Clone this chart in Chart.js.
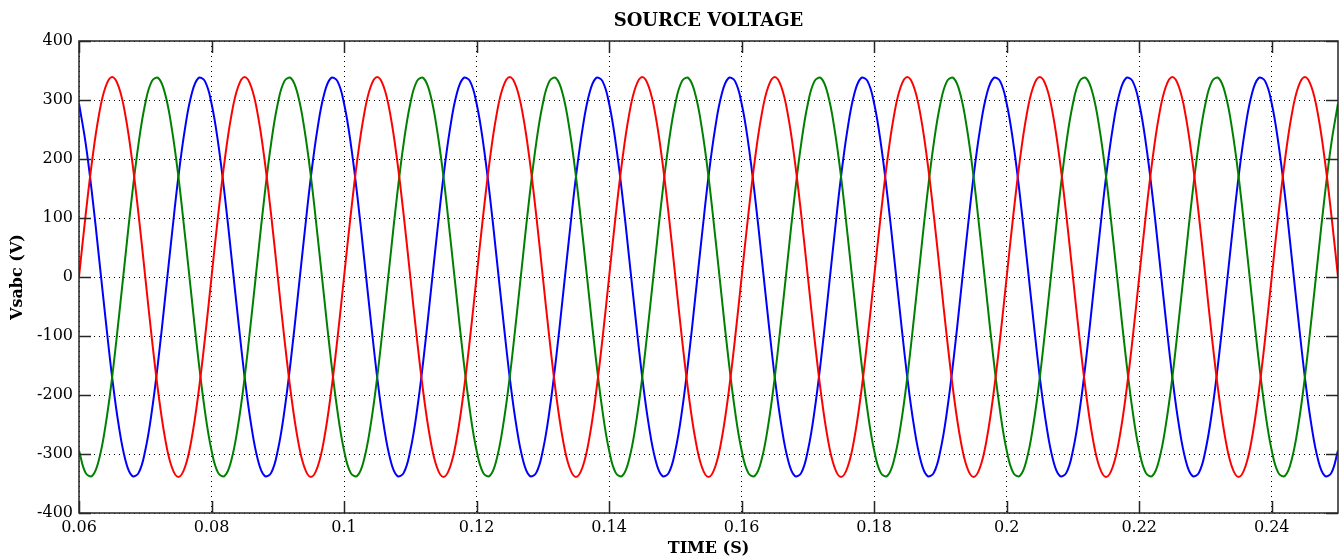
<!DOCTYPE html>
<html>
<head>
<meta charset="utf-8">
<title>Source voltage</title>
<script src="https://cdn.jsdelivr.net/npm/chart.js@4.4.1/dist/chart.umd.min.js"></script>
<style>
  html, body { margin: 0; padding: 0; background: #fff; }
  #wrap { width: 1342px; height: 558px; position: relative; }
</style>
</head>
<body>
<div id="wrap"><canvas id="chart"></canvas></div>
<script>
// Uch fazali manba kuchlanishi, 1 ms qadam bilan o'qilgan qiymatlar (V).

const TIME = [
  0.060,0.061,0.062,0.063,0.064,0.065,0.066,0.067,0.068,0.069,0.070,0.071,0.072,0.073,0.074,0.075,0.076,0.077,0.078,0.079,
  0.080,0.081,0.082,0.083,0.084,0.085,0.086,0.087,0.088,0.089,0.090,0.091,0.092,0.093,0.094,0.095,0.096,0.097,0.098,0.099,
  0.100,0.101,0.102,0.103,0.104,0.105,0.106,0.107,0.108,0.109,0.110,0.111,0.112,0.113,0.114,0.115,0.116,0.117,0.118,0.119,
  0.120,0.121,0.122,0.123,0.124,0.125,0.126,0.127,0.128,0.129,0.130,0.131,0.132,0.133,0.134,0.135,0.136,0.137,0.138,0.139,
  0.140,0.141,0.142,0.143,0.144,0.145,0.146,0.147,0.148,0.149,0.150,0.151,0.152,0.153,0.154,0.155,0.156,0.157,0.158,0.159,
  0.160,0.161,0.162,0.163,0.164,0.165,0.166,0.167,0.168,0.169,0.170,0.171,0.172,0.173,0.174,0.175,0.176,0.177,0.178,0.179,
  0.180,0.181,0.182,0.183,0.184,0.185,0.186,0.187,0.188,0.189,0.190,0.191,0.192,0.193,0.194,0.195,0.196,0.197,0.198,0.199,
  0.200,0.201,0.202,0.203,0.204,0.205,0.206,0.207,0.208,0.209,0.210,0.211,0.212,0.213,0.214,0.215,0.216,0.217,0.218,0.219,
  0.220,0.221,0.222,0.223,0.224,0.225,0.226,0.227,0.228,0.229,0.230,0.231,0.232,0.233,0.234,0.235,0.236,0.237,0.238,0.239,
  0.240,0.241,0.242,0.243,0.244,0.245,0.246,0.247,0.248,0.249,0.250,
];

// A faza (qizil)
const VSA = [
  0,105,199,274,322,339,322,274,199,105,0,-105,-199,-274,-322,-339,-322,-274,-199,-105,
  0,105,199,274,322,339,322,274,199,105,0,-105,-199,-274,-322,-339,-322,-274,-199,-105,
  0,105,199,274,322,339,322,274,199,105,0,-105,-199,-274,-322,-339,-322,-274,-199,-105,
  0,105,199,274,322,339,322,274,199,105,0,-105,-199,-274,-322,-339,-322,-274,-199,-105,
  0,105,199,274,322,339,322,274,199,105,0,-105,-199,-274,-322,-339,-322,-274,-199,-105,
  0,105,199,274,322,339,322,274,199,105,0,-105,-199,-274,-322,-339,-322,-274,-199,-105,
  0,105,199,274,322,339,322,274,199,105,0,-105,-199,-274,-322,-339,-322,-274,-199,-105,
  0,105,199,274,322,339,322,274,199,105,0,-105,-199,-274,-322,-339,-322,-274,-199,-105,
  0,105,199,274,322,339,322,274,199,105,0,-105,-199,-274,-322,-339,-322,-274,-199,-105,
  0,105,199,274,322,339,322,274,199,105,0,
];

// B faza (yashil)
const VSB = [
  -294,-332,-337,-310,-252,-170,-70,35,138,227,294,332,337,310,252,170,70,-35,-138,-227,
  -294,-332,-337,-310,-252,-170,-70,35,138,227,294,332,337,310,252,170,70,-35,-138,-227,
  -294,-332,-337,-310,-252,-170,-70,35,138,227,294,332,337,310,252,170,70,-35,-138,-227,
  -294,-332,-337,-310,-252,-170,-70,35,138,227,294,332,337,310,252,170,70,-35,-138,-227,
  -294,-332,-337,-310,-252,-170,-70,35,138,227,294,332,337,310,252,170,70,-35,-138,-227,
  -294,-332,-337,-310,-252,-170,-70,35,138,227,294,332,337,310,252,170,70,-35,-138,-227,
  -294,-332,-337,-310,-252,-170,-70,35,138,227,294,332,337,310,252,170,70,-35,-138,-227,
  -294,-332,-337,-310,-252,-170,-70,35,138,227,294,332,337,310,252,170,70,-35,-138,-227,
  -294,-332,-337,-310,-252,-170,-70,35,138,227,294,332,337,310,252,170,70,-35,-138,-227,
  -294,-332,-337,-310,-252,-170,-70,35,138,227,294,
];

// C faza (ko'k)
const VSC = [
  294,227,138,35,-70,-170,-252,-310,-337,-332,-294,-227,-138,-35,70,170,252,310,337,332,
  294,227,138,35,-70,-170,-252,-310,-337,-332,-294,-227,-138,-35,70,170,252,310,337,332,
  294,227,138,35,-70,-170,-252,-310,-337,-332,-294,-227,-138,-35,70,170,252,310,337,332,
  294,227,138,35,-70,-170,-252,-310,-337,-332,-294,-227,-138,-35,70,170,252,310,337,332,
  294,227,138,35,-70,-170,-252,-310,-337,-332,-294,-227,-138,-35,70,170,252,310,337,332,
  294,227,138,35,-70,-170,-252,-310,-337,-332,-294,-227,-138,-35,70,170,252,310,337,332,
  294,227,138,35,-70,-170,-252,-310,-337,-332,-294,-227,-138,-35,70,170,252,310,337,332,
  294,227,138,35,-70,-170,-252,-310,-337,-332,-294,-227,-138,-35,70,170,252,310,337,332,
  294,227,138,35,-70,-170,-252,-310,-337,-332,-294,-227,-138,-35,70,170,252,310,337,332,
  294,227,138,35,-70,-170,-252,-310,-337,-332,-294,
];

const X_TICKS = [0.06, 0.08, 0.10, 0.12, 0.14, 0.16, 0.18, 0.20, 0.22, 0.24];
const Y_TICKS = [-400, -300, -200, -100, 0, 100, 200, 300, 400];

const C = {
  red:   "#ff0000",
  green: "#008000",
  blue:  "#0000ff",
  axis:  "#262626",
};

const SERIF = "'DejaVu Serif', 'Liberation Serif', serif";

const toPoints = (ys) => ys.map((v, i) => ({ x: TIME[i], y: v }));

// MATLAB uslubidagi ramka va ichkariga qaragan tick chiziqlari
const frame = {
  id: "frame",
  afterDatasetsDraw(chart) {
    const { ctx, chartArea: a, scales: { x, y } } = chart;
    ctx.save();
    ctx.strokeStyle = C.axis;
    ctx.lineWidth = 1.5;
    ctx.strokeRect(a.left, a.top, a.right - a.left, a.bottom - a.top);
    ctx.beginPath();
    for (const v of X_TICKS) {
      const px = Math.round(x.getPixelForValue(v)) + 0.5;
      ctx.moveTo(px, a.bottom); ctx.lineTo(px, a.bottom - 12);
      ctx.moveTo(px, a.top);    ctx.lineTo(px, a.top + 12);
    }
    for (const v of Y_TICKS) {
      const py = Math.round(y.getPixelForValue(v)) + 0.5;
      ctx.moveTo(a.left, py);  ctx.lineTo(a.left + 12, py);
      ctx.moveTo(a.right, py); ctx.lineTo(a.right - 12, py);
    }
    ctx.stroke();
    ctx.restore();
  },
};

const line = (data, color) => ({
  data: toPoints(data),
  borderColor: color,
  backgroundColor: color,
  borderWidth: 2,
  pointRadius: 0,
  tension: 0.4,
  fill: false,
});

new Chart(document.getElementById("chart"), {
  type: "line",
  data: {
    datasets: [
      line(VSA, C.red),
      line(VSB, C.green),
      line(VSC, C.blue),
    ],
  },
  options: {
    responsive: true,
    maintainAspectRatio: false,
    animation: false,
    layout: { padding: { left: 0, right: 4, top: 0, bottom: 0 } },
    plugins: {
      legend: { display: false },
      tooltip: { enabled: false },
      title: {
        display: true,
        fullSize: false,
        text: "SOURCE VOLTAGE",
        color: "#000",
        font: { family: SERIF, size: 18, weight: "bold", lineHeight: 1.2 },
        padding: { top: 11, bottom: 8.4 },
      },
    },
    scales: {
      x: {
        type: "linear",
        min: 0.06,
        max: 0.25,
        afterBuildTicks: (s) => { s.ticks = X_TICKS.map((v) => ({ value: v })); },
        afterFit: (s) => { s.height = 45; },
        ticks: {
          color: "#000",
          font: { family: SERIF, size: 16 },
          padding: 5,
          maxRotation: 0,
          autoSkip: false,
          callback: (v) => String(Number(v.toFixed(2))),
        },
        grid: { color: "#000", lineWidth: 1, drawTicks: false },
        border: { display: false, dash: [1, 4] },
        title: {
          display: true,
          text: "TIME (S)",
          color: "#000",
          font: { family: SERIF, size: 16, weight: "bold", lineHeight: 1.2 },
          padding: { top: 0, bottom: 0 },
        },
      },
      y: {
        min: -400,
        max: 400,
        afterBuildTicks: (s) => { s.ticks = Y_TICKS.map((v) => ({ value: v })); },
        afterFit: (s) => { s.width = 79; },
        ticks: {
          color: "#000",
          font: { family: SERIF, size: 16 },
          padding: 6,
        },
        grid: { color: "#000", lineWidth: 1, drawTicks: false },
        border: { display: false, dash: [1, 4] },
        title: {
          display: true,
          text: "Vsabc (V)",
          color: "#000",
          font: { family: SERIF, size: 16, weight: "bold", lineHeight: 1.2 },
          padding: { top: 8, bottom: 0 },
        },
      },
    },
  },
  plugins: [frame],
});
</script>
</body>
</html>
